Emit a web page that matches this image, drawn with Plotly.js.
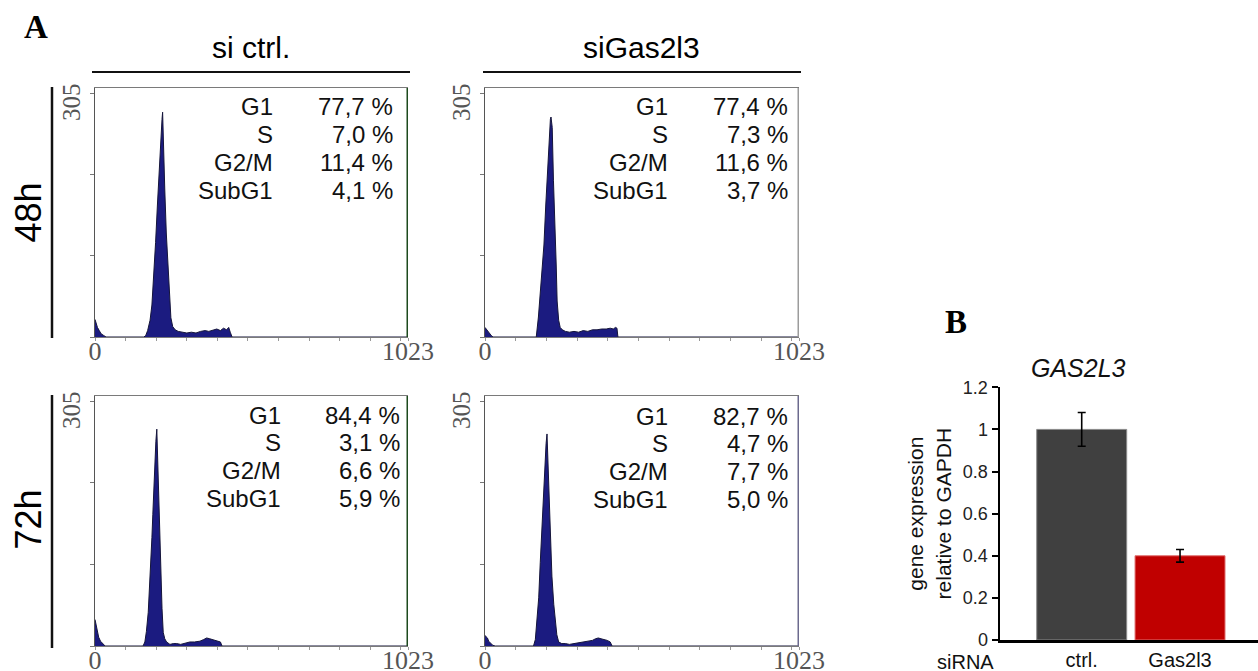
<!DOCTYPE html>
<html>
<head>
<meta charset="utf-8">
<script src="https://cdn.plot.ly/plotly-3.0.1.min.js"></script>
<style>html,body{margin:0;padding:0;background:#fff;}#chart{width:1258px;height:671px;}</style>
</head>
<body>
<div id="chart"></div>
<script>
// ---------- DATA ----------
const columnLabels = ['si ctrl.', 'siGas2l3'];
const rowLabels = ['48h', '72h'];
const phases = ['G1', 'S', 'G2/M', 'SubG1'];

// phase percentages per panel
const pctCtrl48 = [77.7, 7.0, 11.4, 4.1];
const pctGas48  = [77.4, 7.3, 11.6, 3.7];
const pctCtrl72 = [84.4, 3.1, 6.6, 5.9];
const pctGas72  = [82.7, 4.7, 7.7, 5.0];

// DNA-content histograms (channel, count)
const chCtrl48 = [0,4,8,14,20,28,36,160,166,172,180,186,192,198,204,210,215,219,221,224,228,233,238,243,248,254,262,272,285,300,315,330,345,360,372,385,398,410,420,430,437,442,448,1023];
const cntCtrl48 = [22,16,12,8,4,2,0,0,2,8,21,40,75,118,165,215,250,272,281,228,185,130,88,50,24,13,9,7,6,5,6,5,7,8,7,9,10,8,11,9,12,6,0,0];

const chGas48 = [0,4,8,14,20,26,160,167,174,180,186,192,198,203,207,210,213,215,219,223,226,229,232,235,240,245,252,262,275,290,305,320,335,350,365,380,395,408,418,425,430,433,1023];
const cntGas48 = [12,10,7,4,2,0,0,0,25,55,85,115,165,205,234,262,272,275,262,196,165,140,90,45,21,12,9,7,6,7,6,8,7,9,9,10,10,11,10,12,11,0,0];

const chCtrl72 = [0,4,8,12,18,24,33,150,157,163,168,174,178,182,186,189,192,194,197,199,202,205,208,210,213,215,219,223,228,234,245,256,267,280,294,310,325,343,355,365,375,385,395,405,410,415,1023];
const cntCtrl72 = [33,24,16,11,6,3,0,0,0,5,18,42,68,101,135,164,195,213,238,255,270,226,190,164,130,101,47,17,9,5,2,3,3,2,3,5,5,6,8,10,9,8,7,6,5,0,0];

const chGas72 = [0,4,8,12,18,25,33,150,158,164,169,175,180,186,191,196,199,202,205,207,212,218,224,229,234,240,250,262,275,290,305,320,335,350,360,369,378,388,398,408,414,1023];
const cntGas72 = [13,12,10,6,3,1,0,0,0,8,29,60,104,150,195,237,252,264,232,195,140,87,52,29,14,5,3,3,2,3,4,5,6,7,9,10,9,8,7,5,0,0];

const histXTicks = [0,100,200,300,400,500,600,700,800,900,1000,1023];
const histXText  = ['0','','','','','','','','','','','1023'];
const histYTicks = [0, 101.67, 203.33, 305];
const histYText  = ['', '', '', '305'];

// qPCR bar chart (B)
const geneTitle = 'GAS2L3';
const barCats = ['ctrl.', 'Gas2l3'];
const barVals = [1.0, 0.40];
const barErr  = [0.08, 0.03];

// ---------- LAYOUT HELPERS ----------
const W = 1258, H = 671;
const px = x => x / W;
const py = y => 1 - y / H;

const SANS = 'Liberation Sans, Arial, sans-serif';
const SERIF = 'Liberation Serif, Times New Roman, serif';

// panel pixel boxes [left, right, top, bottom]
const boxes = [
  [95, 408, 88, 337],
  [485, 799, 88, 337],
  [95, 408, 396, 646],
  [485, 799, 396, 646]
];
const histCh = [chCtrl48, chGas48, chCtrl72, chGas72];
const histCnt = [cntCtrl48, cntGas48, cntCtrl72, cntGas72];
const pcts = [pctCtrl48, pctGas48, pctCtrl72, pctGas72];
const rightEdgeColors = ['#1d4a1d', '#9c9c9c', '#1d4a1d', '#6c6a8e'];
// text column right edges (labels, values) and first row centre
const textPos = [
  [275, 395, 106.7],
  [670, 790, 106.7],
  [283, 401.7, 415],
  [670, 790, 416]
];
const rowStep = 27.8;

const data = [];
const layout = {
  width: W, height: H,
  margin: {l: 0, r: 0, t: 0, b: 0},
  paper_bgcolor: '#fff', plot_bgcolor: 'rgba(0,0,0,0)',
  showlegend: false,
  annotations: [], shapes: []
};

boxes.forEach((b, i) => {
  const n = i + 1;
  const xa = n === 1 ? 'x' : 'x' + n;
  const ya = n === 1 ? 'y' : 'y' + n;
  data.push({
    type: 'scatter', mode: 'lines', x: histCh[i], y: histCnt[i],
    xaxis: xa, yaxis: ya, fill: 'tozeroy',
    fillcolor: '#1b1b80', line: {color: '#15153a', width: 1},
    hoverinfo: 'skip'
  });
  layout[n === 1 ? 'xaxis' : 'xaxis' + n] = {
    domain: [px(b[0]), px(b[1])], anchor: ya, range: [0, 1023],
    showgrid: false, zeroline: false, showline: true, mirror: true,
    linecolor: '#7a7a7a', linewidth: 1,
    ticks: 'outside', ticklen: 3, tickcolor: '#999', tickwidth: 1,
    tickmode: 'array', tickvals: histXTicks, ticktext: histXText,
    ticklabelstandoff: -12,
    tickfont: {family: SERIF, size: 26, color: '#555'}, fixedrange: true
  };
  layout[n === 1 ? 'yaxis' : 'yaxis' + n] = {
    domain: [py(b[3]), py(b[2])], anchor: xa, range: [0, 311.25],
    showgrid: false, zeroline: false, showline: true,
    linecolor: '#555', linewidth: 1,
    ticks: 'outside', ticklen: 4, tickcolor: '#777', tickwidth: 1,
    tickmode: 'array', tickvals: histYTicks, ticktext: histYText,
    tickangle: -90, ticklabelshift: 13,
    tickfont: {family: SERIF, size: 25, color: '#555'}, fixedrange: true
  };
  // right frame edge
  layout.shapes.push({type: 'line', xref: xa, yref: ya + ' domain', x0: 1023, x1: 1023, y0: 0, y1: 1,
    line: {color: rightEdgeColors[i], width: 3}});
  // phase statistics
  const tp = textPos[i];
  phases.forEach((ph, k) => {
    const yy = py(tp[2] + k * rowStep);
    layout.annotations.push({xref: 'paper', yref: 'paper', x: px(tp[0]), y: yy, xanchor: 'right', yanchor: 'middle',
      text: ph, showarrow: false, font: {family: SANS, size: 24, color: '#111'}});
    layout.annotations.push({xref: 'paper', yref: 'paper', x: px(tp[1]), y: yy, xanchor: 'right', yanchor: 'middle',
      text: pcts[i][k].toFixed(1).replace('.', ',') + ' %', showarrow: false, font: {family: SANS, size: 24, color: '#111'}});
  });
});

// column headers and their lines
[[251, 92, 410], [641, 483, 801]].forEach((c, j) => {
  layout.annotations.push({xref: 'paper', yref: 'paper', x: px(c[0]), y: py(48), xanchor: 'center', yanchor: 'middle',
    text: columnLabels[j], showarrow: false, font: {family: SANS, size: 30, color: '#000'}});
  layout.shapes.push({type: 'line', xref: 'paper', yref: 'paper', x0: px(c[1]), x1: px(c[2]), y0: py(72), y1: py(72),
    line: {color: '#111', width: 2}});
});
// row labels and bracket lines
[[213, 87, 338], [520, 395, 648]].forEach((r, j) => {
  layout.annotations.push({xref: 'paper', yref: 'paper', x: px(27.5), y: py(r[0]), xanchor: 'center', yanchor: 'middle',
    text: rowLabels[j], textangle: -90, showarrow: false, font: {family: SANS, size: 36, color: '#000'}});
  layout.shapes.push({type: 'line', xref: 'paper', yref: 'paper', x0: px(52), x1: px(52), y0: py(r[1]), y1: py(r[2]),
    line: {color: '#111', width: 2.5}});
});
// panel letters
layout.annotations.push({xref: 'paper', yref: 'paper', x: px(36), y: py(27), xanchor: 'center', yanchor: 'middle',
  text: '<b>A</b>', showarrow: false, font: {family: SERIF, size: 33, color: '#000'}});
layout.annotations.push({xref: 'paper', yref: 'paper', x: px(956), y: py(322), xanchor: 'center', yanchor: 'middle',
  text: '<b>B</b>', showarrow: false, font: {family: SERIF, size: 33, color: '#000'}});

// ---------- BAR CHART B ----------
data.push({
  type: 'bar', x: barCats, y: barVals, xaxis: 'x5', yaxis: 'y5',
  marker: {color: ['#404040', '#c00000'], line: {color: ['#8a8a8a', '#e07070'], width: 1}},
  error_y: {type: 'data', array: barErr, visible: true, color: '#000', thickness: 1.6, width: 4},
  hoverinfo: 'skip'
});
layout.bargap = 0.085;
layout.xaxis5 = {
  domain: [px(1000), 1], anchor: 'y5', type: 'category', range: [-0.831, 1.793],
  showgrid: false, zeroline: false, showline: true, linecolor: '#000', linewidth: 2.5,
  ticks: '', tickfont: {family: SANS, size: 20, color: '#111'}, fixedrange: true
};
layout.yaxis5 = {
  domain: [py(640), py(387.3)], anchor: 'x5', range: [0, 1.2], dtick: 0.2,
  showgrid: false, zeroline: false, showline: true, linecolor: '#000', linewidth: 2.5,
  ticks: 'outside', ticklen: 6, tickwidth: 2, tickcolor: '#000',
  tickfont: {family: SANS, size: 18, color: '#222'},
  title: {text: 'gene expression<br>relative to GAPDH', font: {family: SANS, size: 21, color: '#111'}, standoff: 6},
  fixedrange: true
};
layout.annotations.push({xref: 'paper', yref: 'paper', x: px(1078), y: py(368), xanchor: 'center', yanchor: 'middle',
  text: '<i>' + geneTitle + '</i>', showarrow: false, font: {family: SANS, size: 25, color: '#111'}});
layout.annotations.push({xref: 'paper', yref: 'paper', x: px(966), y: py(662), xanchor: 'center', yanchor: 'middle',
  text: 'siRNA', showarrow: false, font: {family: SANS, size: 20, color: '#111'}});

Plotly.newPlot('chart', data, layout, {staticPlot: true, displayModeBar: false});
</script>
</body>
</html>
